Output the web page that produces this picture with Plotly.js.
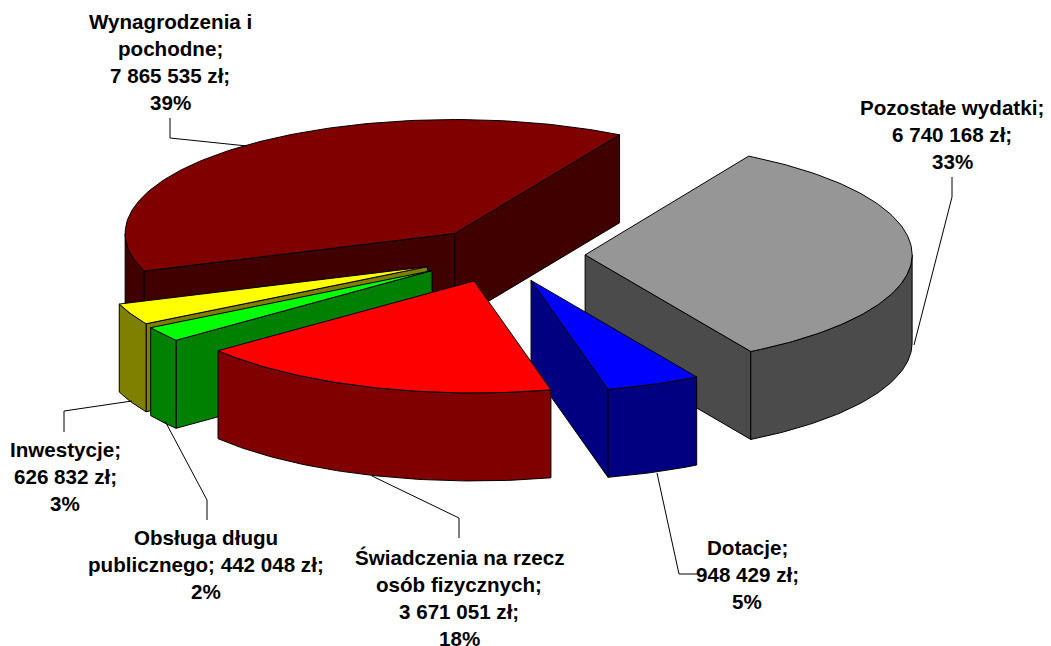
<!DOCTYPE html>
<html><head><meta charset="utf-8">
<script src="https://cdn.plot.ly/plotly-3.0.1.min.js"></script>
<style>html,body{margin:0;padding:0;background:#fff}#c{width:1051px;height:646px}</style>
</head><body><div id="c"></div>
<script>
// data, clockwise from the first slice
const categories = ["Pozostałe wydatki","Dotacje","Świadczenia na rzecz osób fizycznych","Obsługa długu publicznego","Inwestycje","Wynagrodzenia i pochodne"];
const values = [6740168, 948429, 3671051, 442048, 626832, 7865535];
const labelLines = [
  ["Pozostałe wydatki;","6 740 168 zł;","33%"],
  ["Dotacje;","948 429 zł;","5%"],
  ["Świadczenia na rzecz","osób fizycznych;","3 671 051 zł;","18%"],
  ["Obsługa długu","publicznego; 442 048 zł;","2%"],
  ["Inwestycje;","626 832 zł;","3%"],
  ["Wynagrodzenia i","pochodne;","7 865 535 zł;","39%"]
];
// styles
const topColors = ["#969696","#0000ff","#ff0000","#00ff00","#ffff00","#800000"];
const sideColors = ["#4b4b4b","#000080","#800000","#008000","#808000","#400000"];
// layout of the 3D pie
const cx = 505, cy = 255, rx = 327, ryBack = 114, ryFront = 112, depth = 88, explode = 0.245, firstAngle = 30;
const nudgeX = [0, -4, -5, -7, -5, 1];
const rxScale = [1, 1, 1, 1, 1, 1.008];
const labelX = [952, 747, 459, 206, 65, 170];
const labelY = [107, 547, 557, 537, 449, 21];
const linePitch = 27.3, fontSize = 20.6;
const leaders = [
  [[952,177],[952,197],[914,345]],
  [[698,574],[679,574],[657,473]],
  [[459,538],[459,518],[372,476]],
  [[207,520],[207,500],[165,421]],
  [[64,432],[64,411],[132,401]],
  [[170,118],[170,138],[247,146]]
];

const rad = d => d * Math.PI / 180;
const ryAt = t => Math.cos(rad(t)) < 0 ? ryFront : ryBack;
const total = values.reduce((a, b) => a + b, 0);
let acc = firstAngle;
const slices = values.map((v, i) => {
  const s = acc, e = acc + v / total * 360; acc = e;
  const m = (s + e) / 2;
  return { i, s, e, m, rx: rx * rxScale[i],
    ax: cx + nudgeX[i] + explode * rx * Math.sin(rad(m)),
    ay: cy - explode * ryAt(m) * Math.cos(rad(m)) };
});
const traces = [];
function poly(pts, color) {
  traces.push({ type: "scatter", mode: "lines", x: pts.map(p => p[0]), y: pts.map(p => p[1]),
    fill: "toself", fillcolor: color, line: { color: "#000", width: 1 }, hoverinfo: "skip", showlegend: false });
}
function arc(sl, a, b, dz) {
  const n = Math.max(2, Math.ceil(Math.abs(b - a))), out = [];
  for (let k = 0; k <= n; k++) {
    const t = a + (b - a) * k / n;
    out.push([sl.ax + sl.rx * Math.sin(rad(t)), sl.ay - ryAt(t) * Math.cos(rad(t)) + dz]);
  }
  return out;
}
function cutFace(sl, ang) {
  const p = arc(sl, ang, ang, 0)[0];
  poly([[sl.ax, sl.ay], p, [p[0], p[1] + depth], [sl.ax, sl.ay + depth], [sl.ax, sl.ay]], sideColors[sl.i]);
}
// painter's order: back slices first
[...slices].sort((a, b) => Math.cos(rad(b.m)) - Math.cos(rad(a.m))).forEach(sl => {
  if (Math.sin(rad(sl.s)) < 0) cutFace(sl, sl.s);
  if (Math.sin(rad(sl.e)) > 0) cutFace(sl, sl.e);
  const a = Math.max(sl.s, 90), b = Math.min(sl.e, 270);
  if (b > a) {
    const t = arc(sl, a, b, 0), u = arc(sl, b, a, depth);
    poly([...t, ...u, t[0]], sideColors[sl.i]);
  }
  poly([[sl.ax, sl.ay], ...arc(sl, sl.s, sl.e, 0), [sl.ax, sl.ay]], topColors[sl.i]);
});
leaders.forEach(l => traces.push({ type: "scatter", mode: "lines", x: l.map(p => p[0]), y: l.map(p => p[1]),
  line: { color: "#000", width: 1 }, hoverinfo: "skip", showlegend: false }));

const annotations = [];
labelLines.forEach((lines, i) => lines.forEach((t, j) => annotations.push({
  x: labelX[i], y: labelY[i] + j * linePitch, xref: "x", yref: "y", text: t, showarrow: false,
  xanchor: "center", yanchor: "middle", font: { family: "Liberation Sans, Arial, sans-serif", size: fontSize, color: "#000", weight: 700 }
})));
const hidden = { visible: false, showgrid: false, zeroline: false, fixedrange: true };
Plotly.newPlot("c", traces, {
  width: 1051, height: 646, margin: { l: 0, r: 0, t: 0, b: 0 }, paper_bgcolor: "#fff", plot_bgcolor: "#fff",
  xaxis: { ...hidden, range: [0, 1051] }, yaxis: { ...hidden, range: [646, 0] },
  annotations, showlegend: false
}, { displayModeBar: false, staticPlot: true });
</script></body></html>
